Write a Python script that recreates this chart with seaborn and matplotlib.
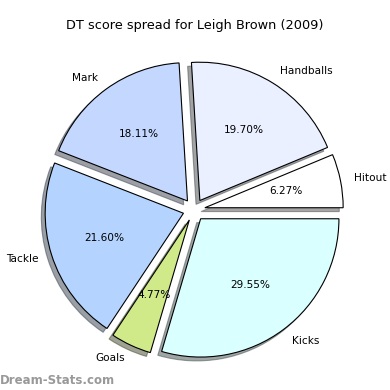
import numpy as np
import pandas as pd
import seaborn as sns
import matplotlib
matplotlib.use('Agg')
import matplotlib.pyplot as plt

# DT score share per stat
labels = ['Hitout', 'Handballs', 'Mark', 'Tackle', 'Goals', 'Kicks']
shares = [6.27, 19.70, 18.11, 21.60, 4.77, 29.55]
colours = ['#ffffff', '#eaf0ff', '#c4d8ff', '#b4d4ff', '#d0ea8a', '#d9ffff']

sns.set_style('white')
plt.rcParams['font.family'] = ['DejaVu Sans']
plt.rcParams['text.color'] = 'black'

fig = plt.figure(figsize=(3.9, 3.9), dpi=100)
# axes sized so one data unit is ~138 px
px = 138.3
cx, cy = 194.0, 390 - 209.9
ax = fig.add_axes([(cx - 1.4 * px) / 390, (cy - 1.3 * px) / 390,
                   2.8 * px / 390, 2.6 * px / 390])

wedges, texts, autotexts = ax.pie(shares, labels=labels, colors=colours,
                                  explode=[0.08] * len(shares), startangle=0,
                                  autopct='%.2f%%', pctdistance=0.6,
                                  labeldistance=1.1, shadow=True,
                                  wedgeprops={'edgecolor': 'black', 'linewidth': 0.8},
                                  textprops={'fontsize': 7.6, 'color': 'black'})
ax.set_xlim(-1.4, 1.4)
ax.set_ylim(-1.3, 1.3)

fig.text(0.5, 1 - 25 / 390, 'DT score spread for Leigh Brown (2009)',
         ha='center', va='center', fontsize=9.3, color='black')
fig.text(0.0, 1 - 380 / 390, 'Dream-Stats.com', ha='left', va='center',
         fontsize=8.5, color='#999999', fontweight='bold')

fig.savefig('out.png', dpi=100)
